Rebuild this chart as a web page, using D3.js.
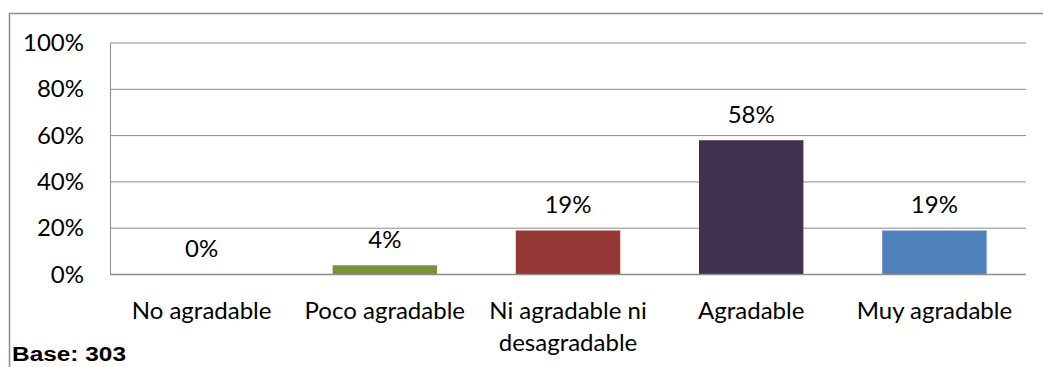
<!DOCTYPE html>
<html>
<head>
<meta charset="utf-8">
<script src="https://cdn.jsdelivr.net/npm/d3@7"></script>
<style>
  body { margin: 0; background: #fff; }
  svg text { font-family: Lato, "Open Sans", "Liberation Sans", sans-serif; fill: #000; }
</style>
</head>
<body>
<div class="d3-wrapper"></div>
<script>
const categories = ['No agradable', 'Poco agradable', 'Ni agradable ni desagradable', 'Agradable', 'Muy agradable'];
const values = [0, 4, 19, 58, 19];
const colors = ['#4F81BD', '#77933C', '#953735', '#403151', '#4F81BD'];
const yTicks = [0, 20, 40, 60, 80, 100];
const baseNote = 'Base: 303';

const OUTER_WIDTH = 1043, OUTER_HEIGHT = 367;
const MARGIN = { top: 43, right: 17, bottom: 92.5, left: 110 };
const INNER_WIDTH = OUTER_WIDTH - MARGIN.left - MARGIN.right,
  INNER_HEIGHT = OUTER_HEIGHT - MARGIN.top - MARGIN.bottom;
const FONT_SIZE = '24px';

const svg = d3.select('.d3-wrapper').append('svg')
  .attr('width', OUTER_WIDTH)
  .attr('height', OUTER_HEIGHT);

// chart frame (right and bottom edges fall outside the picture)
svg.append('rect')
  .attr('x', 9.5).attr('y', 13.5)
  .attr('width', OUTER_WIDTH + 20).attr('height', OUTER_HEIGHT + 20)
  .attr('fill', 'none').attr('stroke', '#8c8c8c').attr('stroke-width', 1.5);

const g = svg.append('g').attr('transform', `translate(${MARGIN.left},${MARGIN.top})`);

const xScale = d3.scaleBand().domain(categories).range([0, INNER_WIDTH]).paddingInner(0.43).paddingOuter(0.215);
const yScale = d3.scaleLinear().domain([0, 100]).range([INNER_HEIGHT, 0]);

// gridlines
g.append('g')
  .selectAll('line')
  .data(yTicks)
  .enter().append('line')
  .attr('x1', 0).attr('x2', INNER_WIDTH)
  .attr('y1', d => yScale(d)).attr('y2', d => yScale(d))
  .attr('stroke', '#8c8c8c').attr('stroke-width', 1);

const yAxis = d3.axisLeft(yScale).tickValues(yTicks).tickFormat(d => d + '%').tickSize(0).tickPadding(26);
const yG = g.append('g').call(yAxis);
yG.select('.domain').attr('stroke', '#8c8c8c');
yG.selectAll('text').style('font-size', FONT_SIZE).style('font-family', 'Lato, sans-serif').attr('fill', '#000');

// bars
g.selectAll('.bar')
  .data(values)
  .enter().append('rect')
  .attr('class', 'bar')
  .attr('x', (d, i) => xScale(categories[i]))
  .attr('width', xScale.bandwidth())
  .attr('y', d => yScale(d))
  .attr('height', d => INNER_HEIGHT - yScale(d))
  .attr('fill', (d, i) => colors[i]);

// baseline on top
g.append('line')
  .attr('x1', 0).attr('x2', INNER_WIDTH)
  .attr('y1', INNER_HEIGHT).attr('y2', INNER_HEIGHT)
  .attr('stroke', '#8c8c8c').attr('stroke-width', 1.5);

// value labels
g.selectAll('.value')
  .data(values)
  .enter().append('text')
  .attr('class', 'value')
  .attr('x', (d, i) => xScale(categories[i]) + xScale.bandwidth() / 2)
  .attr('y', d => yScale(d) - 26)
  .attr('dy', '0.35em')
  .attr('text-anchor', 'middle')
  .style('font-size', FONT_SIZE)
  .text(d => d + '%');

// category labels, wrapped like the original
const wrapLines = c => c === 'Ni agradable ni desagradable' ? ['Ni agradable ni', 'desagradable'] : [c];
const cat = g.selectAll('.cat')
  .data(categories)
  .enter().append('text')
  .attr('class', 'cat')
  .attr('x', d => xScale(d) + xScale.bandwidth() / 2)
  .attr('y', INNER_HEIGHT + 36)
  .attr('text-anchor', 'middle')
  .style('font-size', FONT_SIZE);
cat.selectAll('tspan')
  .data(d => wrapLines(d).map(t => ({ t, x: xScale(d) + xScale.bandwidth() / 2 })))
  .enter().append('tspan')
  .attr('x', d => d.x)
  .attr('dy', (d, i) => i === 0 ? '0.35em' : '32px')
  .text(d => d.t);

svg.append('text')
  .attr('x', 12)
  .attr('y', 361)
  .attr('textLength', 114)
  .attr('lengthAdjust', 'spacingAndGlyphs')
  .style('font-family', '"Liberation Sans", sans-serif')
  .style('font-weight', 'bold')
  .style('font-size', '20px')
  .attr('fill', '#333')
  .text(baseNote);
</script>
</body>
</html>
